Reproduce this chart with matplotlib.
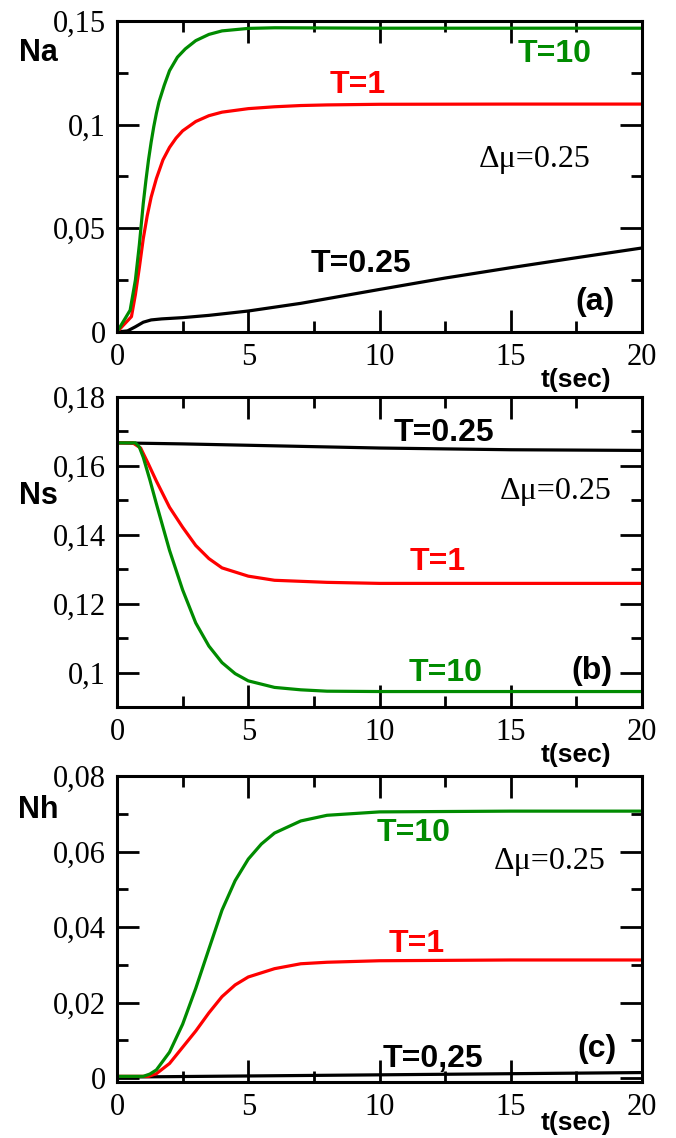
import matplotlib
matplotlib.use("Agg")
import matplotlib.pyplot as plt
from matplotlib.ticker import MultipleLocator, FixedLocator, FixedFormatter

GREEN = "#008b00"
RED = "#ff0000"
BLACK = "#000000"

# ---------------------------------------------------------------
# Na(t)  -- panel (a)
# ---------------------------------------------------------------
na_t10_t = [0, 0.5, 0.7, 0.85, 1.0, 1.1, 1.2, 1.3, 1.4, 1.5, 1.6, 1.8, 2.0,
            2.3, 2.6, 3.0, 3.5, 4.0, 5.0, 6.0, 8.0, 10, 15, 20]
na_t10_v = [0, 0.0105, 0.025, 0.042, 0.062, 0.073, 0.083, 0.0915, 0.099,
            0.1055, 0.111, 0.119, 0.126, 0.1325, 0.1365, 0.1405, 0.1435,
            0.1452, 0.1464, 0.1467, 0.1466, 0.1465, 0.1465, 0.1465]

na_t1_t = [0, 0.55, 0.7, 0.85, 1.0, 1.15, 1.3, 1.5, 1.75, 2.0, 2.25, 2.5,
           3.0, 3.5, 4.0, 5.0, 6.0, 7.0, 8.0, 10, 15, 20]
na_t1_v = [0, 0.0074, 0.018, 0.031, 0.045, 0.056, 0.065, 0.074, 0.083, 0.089,
           0.0935, 0.097, 0.1015, 0.1043, 0.106, 0.1077, 0.1086, 0.1092,
           0.1095, 0.1098, 0.1099, 0.1099]

na_t025_t = [0, 0.4, 0.7, 1.0, 1.3, 1.7, 2.5, 3.5, 5, 7, 10, 12.5, 15, 17.5, 20]
na_t025_v = [0, 0.0005, 0.0025, 0.0047, 0.0058, 0.0063, 0.0069, 0.0080, 0.0101,
             0.0138, 0.0205, 0.026, 0.031, 0.0358, 0.0405]

# ---------------------------------------------------------------
# Ns(t)  -- panel (b)
# ---------------------------------------------------------------
ns_t10_t = [0, 0.7, 0.85, 1.0, 1.25, 1.5, 2, 2.5, 3, 3.5, 4, 4.5, 5, 6, 7, 8,
            10, 15, 20]
ns_t10_v = [0.1667, 0.1667, 0.1655, 0.1625, 0.156, 0.149, 0.1355, 0.124,
            0.1144, 0.1077, 0.1029, 0.0997, 0.0976, 0.0957, 0.095, 0.0946,
            0.0945, 0.0945, 0.0945]

ns_t1_t = [0, 0.6, 0.9, 1.2, 1.5, 2, 2.5, 3, 3.5, 4, 5, 6, 8, 10, 15, 20]
ns_t1_v = [0.1667, 0.1667, 0.1652, 0.1605, 0.1556, 0.148, 0.1422, 0.1369,
           0.1331, 0.1304, 0.128, 0.1268, 0.1262, 0.1259, 0.1259, 0.1259]

ns_t025_t = [0, 2.5, 5, 7.5, 10, 15, 20]
ns_t025_v = [0.1667, 0.1664, 0.1660, 0.1656, 0.1652, 0.1647, 0.1645]

# ---------------------------------------------------------------
# Nh(t)  -- panel (c)
# ---------------------------------------------------------------
nh_t10_t = [0, 1.0, 1.25, 1.5, 2, 2.5, 3, 3.5, 4, 4.5, 5, 5.5, 6, 7, 8, 10,
            15, 20]
nh_t10_v = [0.0005, 0.0005, 0.0011, 0.0022, 0.0069, 0.0143, 0.0238, 0.0342,
            0.0445, 0.0523, 0.058, 0.062, 0.0649, 0.0681, 0.0696, 0.0705,
            0.0707, 0.0707]

nh_t1_t = [0, 1.2, 1.5, 2, 2.5, 3, 3.5, 4, 4.5, 5, 6, 7, 8, 10, 15, 20]
nh_t1_v = [0.0005, 0.0005, 0.0012, 0.0039, 0.0082, 0.0125, 0.0173, 0.0216,
           0.0247, 0.0268, 0.029, 0.0303, 0.0307, 0.0311, 0.0313, 0.0313]

nh_t025_t = [0, 5, 10, 15, 20]
nh_t025_v = [0.0003, 0.0006, 0.0009, 0.0012, 0.0015]

# tick values and their (comma-decimal) labels
x_ticks = [0, 5, 10, 15, 20]
x_labels = ["0", "5", "10", "15", "20"]
na_ticks = [0, 0.05, 0.1, 0.15]
na_labels = ["0", "0,05", "0,1", "0,15"]
ns_ticks = [0.1, 0.12, 0.14, 0.16, 0.18]
ns_labels = ["0,1", "0,12", "0,14", "0,16", "0,18"]
nh_ticks = [0, 0.02, 0.04, 0.06, 0.08]
nh_labels = ["0", "0,02", "0,04", "0,06", "0,08"]

SERIF = "Liberation Serif"
SANS = "Liberation Sans"

fig = plt.figure(figsize=(6.76, 11.38), dpi=100)


def make_panel(rect, ylim, yticks, ylabels, yminor, name, name_y, t_y=-0.155):
    ax = fig.add_axes(rect)
    ax.set_xlim(0, 20)
    ax.set_ylim(*ylim)
    ax.xaxis.set_major_locator(FixedLocator(x_ticks))
    ax.xaxis.set_major_formatter(FixedFormatter(x_labels))
    ax.xaxis.set_minor_locator(MultipleLocator(2.5))
    ax.yaxis.set_major_locator(FixedLocator(yticks))
    ax.yaxis.set_major_formatter(FixedFormatter(ylabels))
    ax.yaxis.set_minor_locator(MultipleLocator(yminor))
    ax.tick_params(which="both", direction="in", top=True, right=True,
                   width=2, labelsize=22, pad=8)
    ax.tick_params(which="major", length=16)
    ax.tick_params(which="minor", length=8)
    for lab in ax.get_xticklabels() + ax.get_yticklabels():
        lab.set_fontfamily(SERIF)
    for sp in ax.spines.values():
        sp.set_linewidth(2.2)
    ax.text(-0.15, name_y, name, transform=ax.get_yaxis_transform(),
            ha="center", va="center", fontsize=22, fontweight="bold",
            family=SANS)
    ax.text(17.5, t_y, "t(sec)", transform=ax.get_xaxis_transform(),
            ha="center", va="center", fontsize=19, fontweight="bold",
            family=SANS)
    return ax


def label(ax, x, y, s, color=BLACK, bold=True, serif=False):
    ax.text(x, y, s, color=color, ha="center", va="center", fontsize=23,
            fontweight="bold" if bold else "normal",
            family=SERIF if serif else SANS)


lw = 2.3

# (a)
ax_a = make_panel([0.1731, 0.7083, 0.7766, 0.2733], (0, 0.15),
                  na_ticks, na_labels, 0.025, "Na", 0.1347)
ax_a.plot(na_t025_t, na_t025_v, color=BLACK, lw=lw)
ax_a.plot(na_t1_t, na_t1_v, color=RED, lw=lw)
ax_a.plot(na_t10_t, na_t10_v, color=GREEN, lw=lw)
label(ax_a, 16.66, 0.1340, "T=10", GREEN)
label(ax_a, 9.16, 0.119, "T=1", RED)
label(ax_a, 15.9, 0.083, "\u0394\u03bc=0.25", bold=False, serif=True)
label(ax_a, 9.3, 0.033, "T=0.25")
label(ax_a, 18.2, 0.0145, "(a)")

# (b)
ax_b = make_panel([0.1731, 0.3787, 0.7766, 0.2724], (0.09, 0.18),
                  ns_ticks, ns_labels, 0.01, "Ns", 0.1513)
ax_b.plot(ns_t025_t, ns_t025_v, color=BLACK, lw=lw)
ax_b.plot(ns_t1_t, ns_t1_v, color=RED, lw=lw)
ax_b.plot(ns_t10_t, ns_t10_v, color=GREEN, lw=lw)
label(ax_b, 12.45, 0.1695, "T=0.25")
label(ax_b, 16.7, 0.1527, "\u0394\u03bc=0.25", bold=False, serif=True)
label(ax_b, 12.2, 0.1321, "T=1", RED)
label(ax_b, 12.5, 0.1000, "T=10", GREEN)
label(ax_b, 18.1, 0.1005, "(b)")

# (c)
ax_c = make_panel([0.1731, 0.0492, 0.7766, 0.2689], (-0.001, 0.08),
                  nh_ticks, nh_labels, 0.01, "Nh", 0.0709, t_y=-0.135)
ax_c.plot(nh_t025_t, nh_t025_v, color=BLACK, lw=lw)
ax_c.plot(nh_t1_t, nh_t1_v, color=RED, lw=lw)
ax_c.plot(nh_t10_t, nh_t10_v, color=GREEN, lw=lw)
label(ax_c, 11.3, 0.0649, "T=10", GREEN)
label(ax_c, 16.5, 0.0575, "\u0394\u03bc=0.25", bold=False, serif=True)
label(ax_c, 11.4, 0.0355, "T=1", RED)
label(ax_c, 12.04, 0.0052, "T=0,25")
label(ax_c, 18.3, 0.0078, "(c)")

fig.savefig("out.png", dpi=100)
